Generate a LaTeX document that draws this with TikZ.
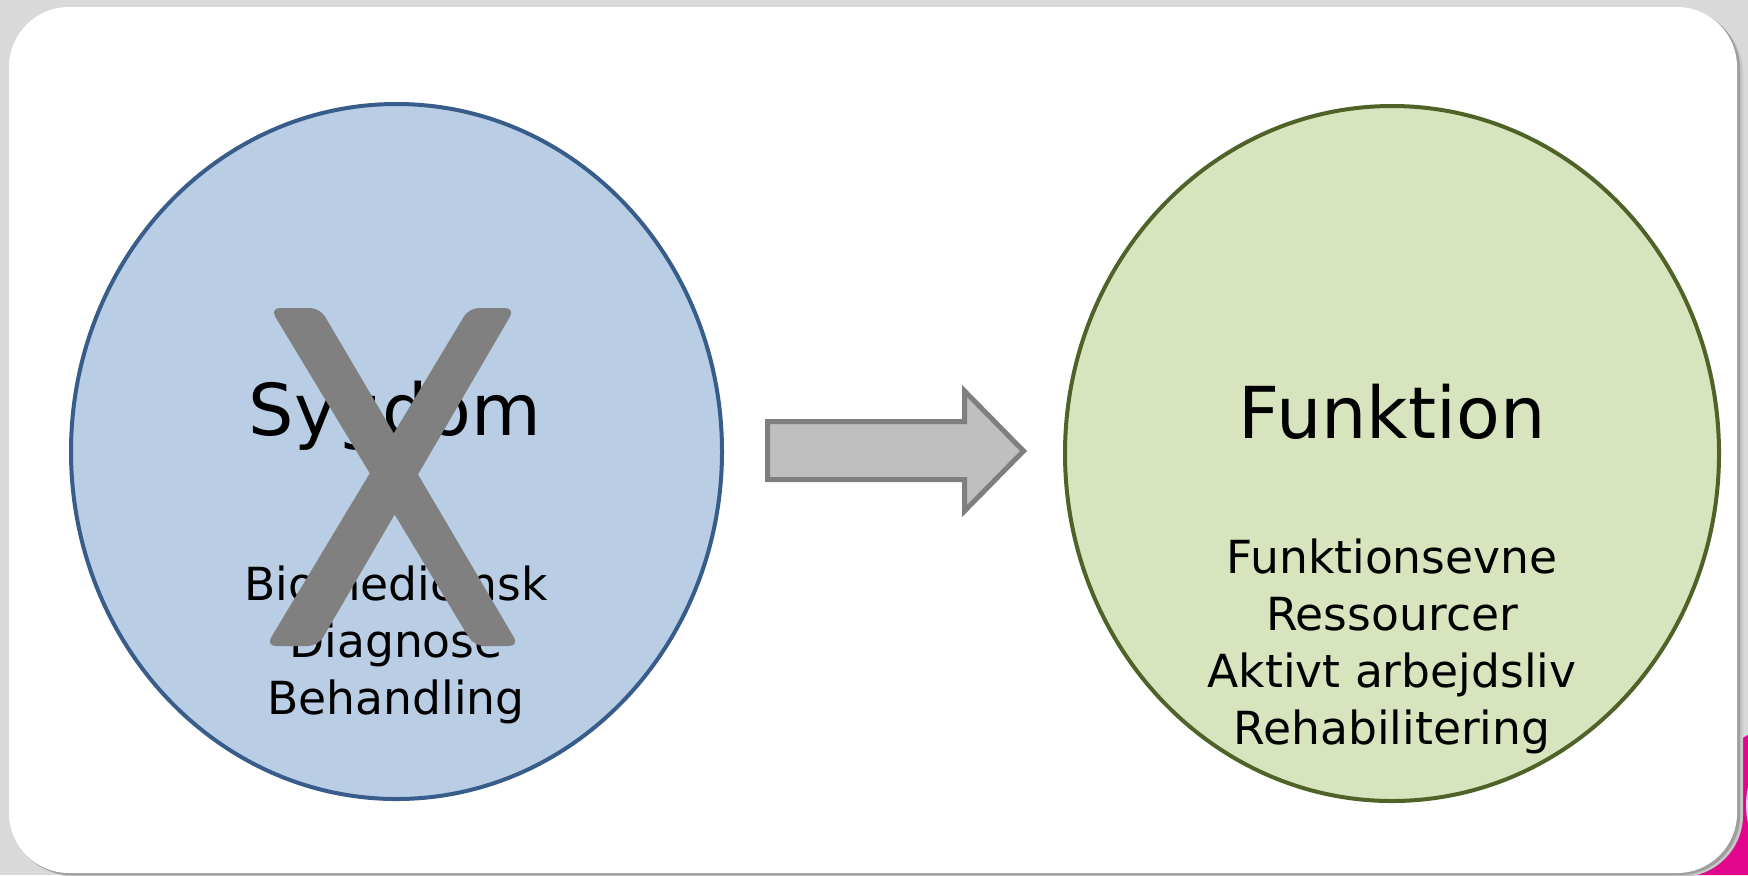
\documentclass[tikz,border=0pt]{standalone}
\usepackage{fontspec}
\setmainfont{DejaVu Sans}
\usetikzlibrary{shapes.geometric}
\definecolor{bgc}{HTML}{D9D9D9}
\definecolor{bluefill}{HTML}{B9CDE5}
\definecolor{blueline}{HTML}{385D8A}
\definecolor{greenfill}{HTML}{D7E4BD}
\definecolor{greenline}{HTML}{4F6228}
\definecolor{arrowfill}{HTML}{BFBFBF}
\definecolor{arrowline}{HTML}{7F7F7F}
\definecolor{xgrey}{HTML}{808080}
\definecolor{magentac}{HTML}{E2068C}
\tikzset{
  bigtxt/.style={anchor=base, inner sep=0pt, font=\fontsize{35.8}{42}\selectfont},
  smalltxt/.style={anchor=base, inner sep=0pt, font=\fontsize{22.8}{28}\selectfont},
  circ/.style={ellipse, line width=2pt, inner sep=0pt, minimum width=#1},
}
\begin{document}
\begin{tikzpicture}[x=0.5pt,y=-0.5pt]
\useasboundingbox (0,0) rectangle (1748,875);
\fill[bgc] (0,0) rectangle (1748,875);
% magenta logo part behind the card
\fill[magentac] (1720,750) -- (1748,735) -- (1748,875) -- (1676,875) -- (1700,858) -- cycle;
\fill[white!80!magentac] (1756,805) ellipse[x radius=10, y radius=30];
% card shadow
\fill[black!22, rounded corners=31pt] (14,11) rectangle (1743,877);
\fill[black!38, rounded corners=30pt] (11,9) rectangle (1740,875);
% card
\fill[white, rounded corners=30pt] (9,7) rectangle (1737,873);
% circles
\node[circ=325.5pt, minimum height=347.5pt, draw=blueline, fill=bluefill] (sym) at (396.5,451.5) {};
\node[circ=327pt, minimum height=347.5pt, draw=greenline, fill=greenfill] (fun) at (1392,453.5) {};
% texts left
\node[bigtxt] (sygdom) at (395,435) {Sygdom};
\node[smalltxt] (bio) at (396,600) {Biomedicinsk};
\node[smalltxt] (diag) at (396,657) {Diagnose};
\node[smalltxt] (beh) at (396,714) {Behandling};
% texts right
\node[bigtxt] (funktion) at (1392,438) {Funktion};
\node[smalltxt] (fevne) at (1392,573) {Funktionsevne};
\node[smalltxt] (ress) at (1392,630) {Ressourcer};
\node[smalltxt] (akt) at (1392,687) {Aktivt arbejdsliv};
\node[smalltxt] (rehab) at (1392,744) {Rehabilitering};
% big X
\fill[xgrey, rounded corners=5pt] (270,308) -- (320,308) -- (519,646) -- (474,646) -- cycle;
\fill[xgrey, rounded corners=5pt] (469,308) -- (515,308) -- (318,646) -- (266,646) -- cycle;
% block arrow
\draw[arrowline, fill=arrowfill, line width=2.5pt, line join=miter]
  (767.5,421.5) -- (964.5,421.5) -- (964.5,391) -- (1023.5,451) -- (964.5,511) -- (964.5,479.5) -- (767.5,479.5) -- cycle;
\end{tikzpicture}
\end{document}
